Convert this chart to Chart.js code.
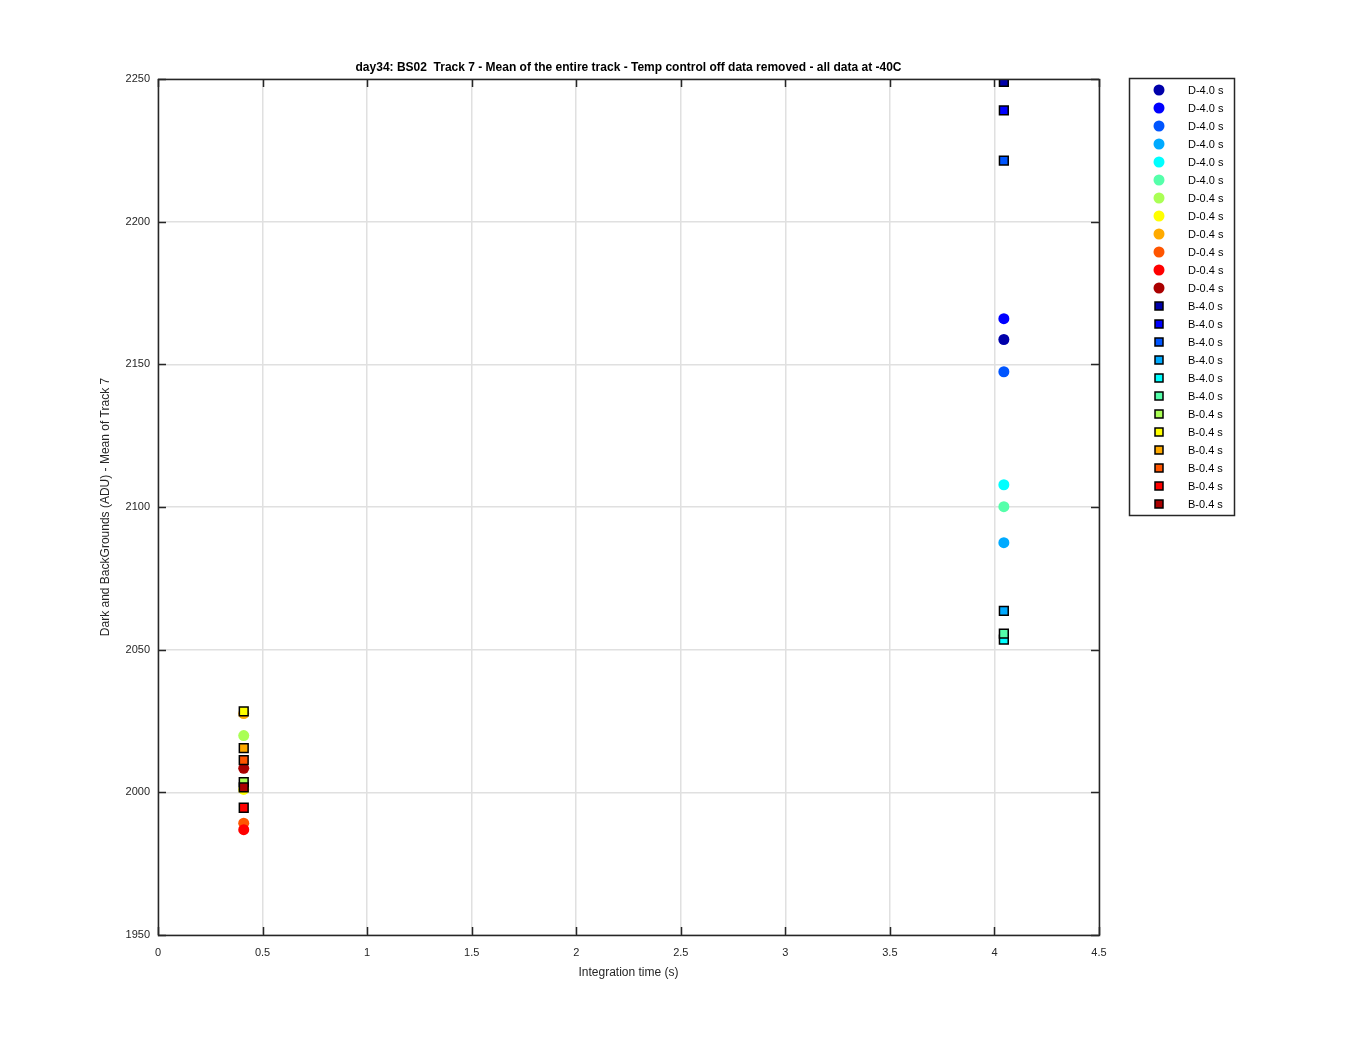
<!DOCTYPE html>
<html>
<head>
<meta charset="utf-8">
<script src="https://cdn.jsdelivr.net/npm/chart.js@4.4.1/dist/chart.umd.min.js"></script>
<style>
  body { margin: 0; background: #fff; }
  canvas { display: block; }
</style>
</head>
<body>
<canvas id="myChart" width="1350" height="1050"></canvas>
<script>
// series names, in legend order
const darkLabels = ['D-4.0 s', 'D-4.0 s', 'D-4.0 s', 'D-4.0 s', 'D-4.0 s', 'D-4.0 s',
                    'D-0.4 s', 'D-0.4 s', 'D-0.4 s', 'D-0.4 s', 'D-0.4 s', 'D-0.4 s'];
const bgLabels = ['B-4.0 s', 'B-4.0 s', 'B-4.0 s', 'B-4.0 s', 'B-4.0 s', 'B-4.0 s',
                  'B-0.4 s', 'B-0.4 s', 'B-0.4 s', 'B-0.4 s', 'B-0.4 s', 'B-0.4 s'];

// integration times (s)
const darkTimes = [4.045, 4.045, 4.045, 4.045, 4.045, 4.045, 0.41, 0.41, 0.41, 0.41, 0.41, 0.41];
const bgTimes = [4.045, 4.045, 4.045, 4.045, 4.045, 4.045, 0.41, 0.41, 0.41, 0.41, 0.41, 0.41];

// mean of track 7 (ADU)
const darkMeans = [2158.7, 2166.0, 2147.4, 2087.5, 2107.8, 2100.1,
                   2019.9, 2001.0, 2027.6, 1989.2, 1986.9, 2008.4];
const bgMeans = [2249.0, 2239.0, 2221.4, 2063.6, 2053.5, 2055.6,
                 2003.6, 2028.4, 2015.5, 2011.3, 1994.6, 2001.7];

// jet(12)
const jet = ['#0000aa', '#0000ff', '#0055ff', '#00aaff', '#00ffff', '#55ffaa',
             '#aaff55', '#ffff00', '#ffaa00', '#ff5500', '#ff0000', '#aa0000'];

const xTicks = [0, 0.5, 1, 1.5, 2, 2.5, 3, 3.5, 4, 4.5];
const yTicks = [1950, 2000, 2050, 2100, 2150, 2200, 2250];

const titleText = 'day34: BS02  Track 7 - Mean of the entire track - Temp control off data removed - all data at -40C';
const FONT = '"Liberation Sans", Arial, Helvetica, sans-serif';
const AXIS = '#262626';

let datasets = [];
let legendItems = [];

for (let i = 0; i !== darkMeans.length; i++) {
    datasets.push({
        label: darkLabels[i],
        data: [{ x: darkTimes[i], y: darkMeans[i] }],
        pointStyle: 'circle',
        pointRadius: 5.5,
        backgroundColor: jet[i],
        borderColor: jet[i],
        borderWidth: 0
    });
    legendItems.push({ label: darkLabels[i], color: jet[i], square: false });
}
for (let i = 0; i !== bgMeans.length; i++) {
    datasets.push({
        label: bgLabels[i],
        data: [{ x: bgTimes[i], y: bgMeans[i] }],
        pointStyle: 'rect',
        pointRadius: 6.2,
        backgroundColor: jet[i],
        borderColor: '#000',
        borderWidth: 1.5
    });
    legendItems.push({ label: bgLabels[i], color: jet[i], square: true });
}
// matlab draws later series on top
datasets.forEach((d, i) => { d.order = datasets.length - i; d.pointHoverRadius = d.pointRadius; });

// box, inward ticks, title and legend
const matlabDecor = {
    id: 'matlabDecor',
    afterDatasetsDraw(chart) {
        const ctx = chart.ctx;
        const a = chart.chartArea;
        const xs = chart.scales.x, ys = chart.scales.y;
        const tl = 8;
        ctx.save();
        ctx.strokeStyle = AXIS;
        ctx.lineWidth = 1.5;
        ctx.beginPath();
        for (const t of xTicks) {
            const px = Math.round(xs.getPixelForValue(t)) + 0.5;
            ctx.moveTo(px, a.bottom); ctx.lineTo(px, a.bottom - tl);
            ctx.moveTo(px, a.top); ctx.lineTo(px, a.top + tl);
        }
        for (const t of yTicks) {
            const py = Math.round(ys.getPixelForValue(t)) + 0.5;
            ctx.moveTo(a.left, py); ctx.lineTo(a.left + tl, py);
            ctx.moveTo(a.right, py); ctx.lineTo(a.right - tl, py);
        }
        ctx.stroke();
        ctx.strokeRect(Math.round(a.left) + 0.5, Math.round(a.top) + 0.5,
                       Math.round(a.right - a.left), Math.round(a.bottom - a.top));

        // title
        ctx.fillStyle = '#000';
        ctx.font = 'bold 12px ' + FONT;
        ctx.textAlign = 'center';
        ctx.textBaseline = 'middle';
        ctx.fillText(titleText, (a.left + a.right) / 2, 68);

        // legend
        const lx = 1129.5, ly = 78.5, lw = 105, lh = 437;
        ctx.fillStyle = '#fff';
        ctx.fillRect(lx, ly, lw, lh);
        ctx.strokeStyle = AXIS;
        ctx.lineWidth = 1.5;
        ctx.strokeRect(lx, ly, lw, lh);
        ctx.font = '11px ' + FONT;
        ctx.textAlign = 'left';
        for (let i = 0; i !== legendItems.length; i++) {
            const it = legendItems[i];
            const cy = 90 + i * 18;
            ctx.fillStyle = it.color;
            if (it.square) {
                ctx.lineWidth = 1.5;
                ctx.strokeStyle = '#000';
                ctx.fillRect(1155, cy - 4, 8, 8);
                ctx.strokeRect(1155, cy - 4, 8, 8);
            } else {
                ctx.beginPath();
                ctx.arc(1159, cy, 5.5, 0, Math.PI * 2);
                ctx.fill();
            }
            ctx.fillStyle = '#000';
            ctx.fillText(it.label, 1188, cy + 1);
        }
        ctx.restore();
    }
};

const config = {
    type: 'scatter',
    data: { datasets: datasets },
    options: {
        responsive: false,
        animation: false,
        events: [],
        layout: { padding: { left: 98, top: 79, right: 251, bottom: 70 } },
        plugins: {
            legend: { display: false },
            tooltip: { enabled: false },
            title: { display: false }
        },
        scales: {
            x: {
                type: 'linear',
                min: 0,
                max: 4.5,
                afterBuildTicks: (s) => { s.ticks = xTicks.map(v => ({ value: v })); },
                afterFit: (s) => { s.height = 45; },
                grid: { color: '#e0e0e0', lineWidth: 1.5, drawTicks: false },
                border: { display: false },
                ticks: { color: AXIS, font: { family: FONT, size: 11 }, padding: 11, maxRotation: 0,
                         callback: (v) => String(v) },
                title: { display: true, text: 'Integration time (s)', color: AXIS,
                         font: { family: FONT, size: 12 }, padding: 0 }
            },
            y: {
                type: 'linear',
                min: 1950,
                max: 2250,
                afterBuildTicks: (s) => { s.ticks = yTicks.map(v => ({ value: v })); },
                afterFit: (s) => { s.width = 60; },
                grid: { color: '#e0e0e0', lineWidth: 1.5, drawTicks: false },
                border: { display: false },
                ticks: { color: AXIS, font: { family: FONT, size: 11 }, padding: 8,
                         callback: (v) => String(v) },
                title: { display: true, text: 'Dark and BackGrounds (ADU) - Mean of Track 7', color: AXIS,
                         font: { family: FONT, size: 12 }, padding: 0 }
            }
        }
    },
    plugins: [matlabDecor]
};

new Chart(document.getElementById('myChart'), config);
</script>
</body>
</html>
